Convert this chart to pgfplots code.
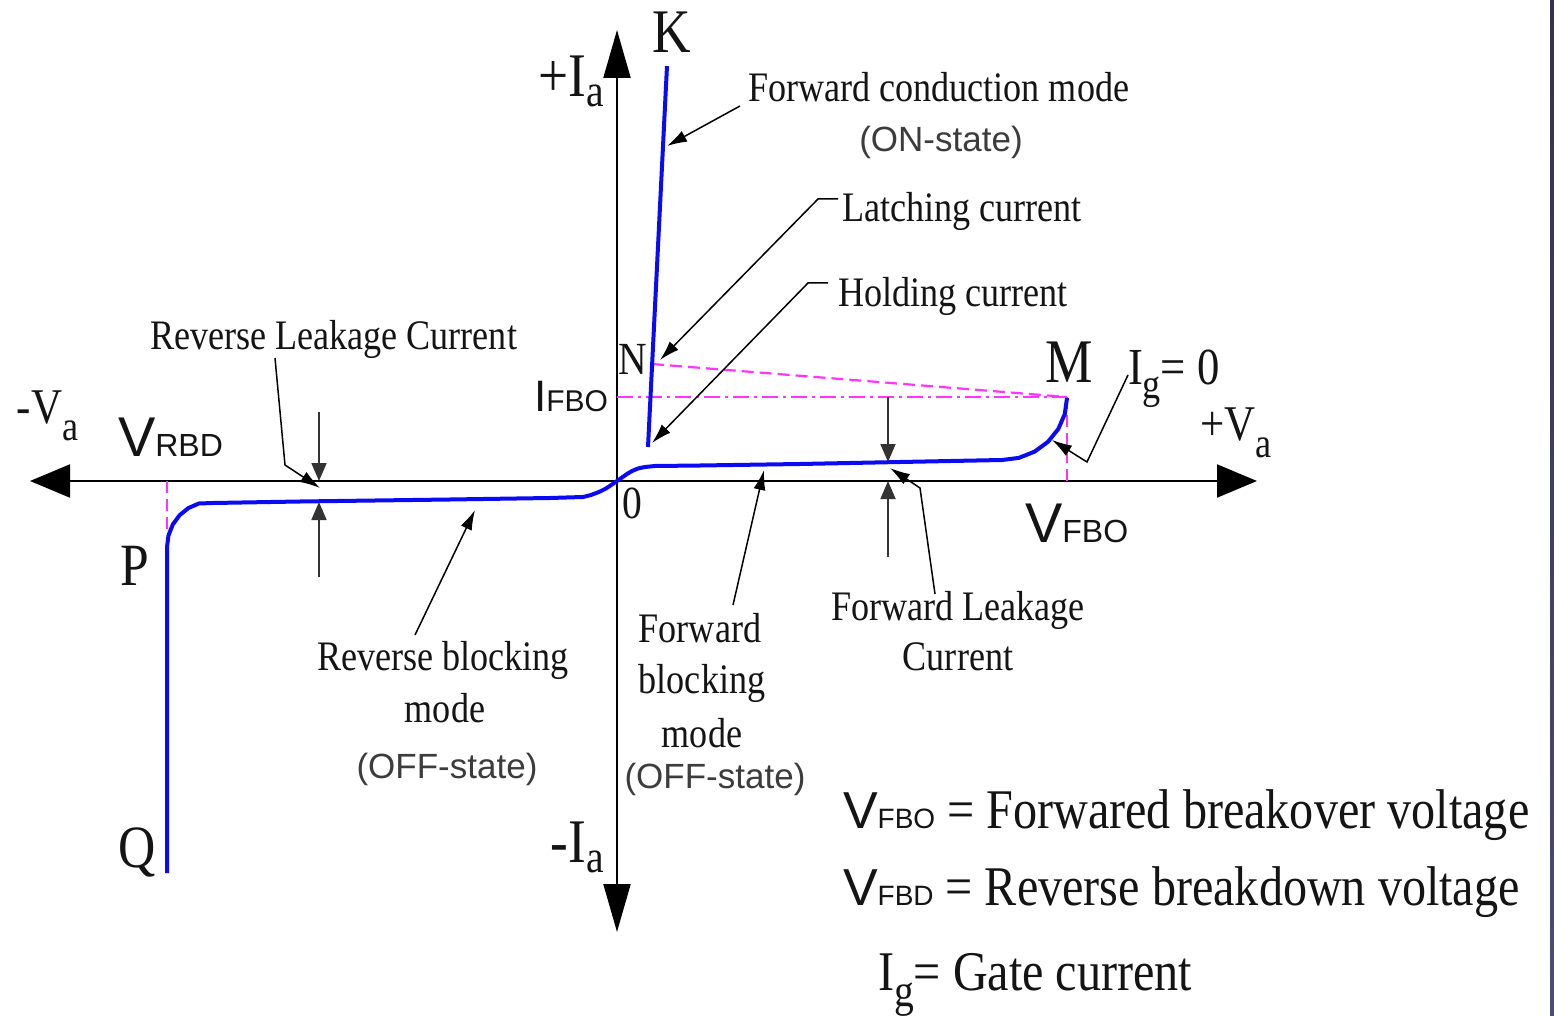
\documentclass[border=0pt]{standalone}
\usepackage{fontspec}
\setmainfont[FakeStretch=0.86]{Liberation Serif}
\newfontfamily\sans{Liberation Sans}
\usepackage{pgfplots}
\pgfplotsset{compat=1.18}
\usetikzlibrary{arrows.meta}
\definecolor{curve}{RGB}{10,10,245}
\definecolor{guide}{RGB}{255,50,255}
\definecolor{txt}{RGB}{20,20,20}
\definecolor{state}{RGB}{60,60,60}
\newcommand{\fs}[1]{\fontsize{#1}{#1}\selectfont}
\tikzset{lab/.style={inner sep=0pt,outer sep=0pt,text=txt}}
\begin{document}
\begin{tikzpicture}
\begin{axis}[x=0.5pt,y=0.5pt,xmin=0,xmax=1554,ymin=0,ymax=1016,y dir=reverse,
  axis lines=none,clip=false,scale only axis]
\path[fill=white] (axis cs:0,0) rectangle (axis cs:1554,1016);
\path[top color=black!85!blue!60!gray,bottom color=black!60!blue!40!gray] (axis cs:1550,0) rectangle (axis cs:1554,1016);
% axes
\addplot[black,line width=1pt,{Triangle[length=20pt,width=16.5pt]}-{Triangle[length=20pt,width=16.5pt]}] coordinates {(30,481) (1257,481)};
\addplot[black,line width=1pt,{Triangle[length=24pt,width=13.5pt]}-{Triangle[length=24pt,width=13.5pt]}] coordinates {(617,30) (617,932)};
% guides
\addplot[guide,line width=1.1pt,dash pattern=on 6pt off 3pt] coordinates {(652,364) (1067,397)};
\addplot[guide,line width=1.1pt,dash pattern=on 8pt off 2.5pt on 1.5pt off 2.5pt] coordinates {(617,397) (1067,397)};
\addplot[guide,line width=1.1pt,dash pattern=on 6pt off 3pt] coordinates {(1067,397) (1067,481)};
\addplot[guide,line width=0.9pt,dash pattern=on 6pt off 3pt] coordinates {(167,481) (167,530)};
% characteristic
\addplot[curve,line width=2pt,line join=round] coordinates {(667,66) (648,447)};
\addplot[curve,line width=2pt,line join=round] coordinates {
(617,481) (622,477.5) (627,474) (632,471) (638,468.5) (645,467) (655,466) (700,465.5)
(800,464) (900,462) (1002,460) (1018.8,457.9) (1034.5,451.7) (1048,441.8)
(1058.3,429) (1064.8,414) (1067,398)};
\addplot[curve,line width=2pt,line join=round] coordinates {
(617,481) (612,484.5) (606,488.5) (599,492) (591,495) (583,497) (550,498)
(450,499.5) (300,501.5) (213,503) (198.9,503.5) (188.5,508) (179.6,515.2)
(172.8,524.5) (168.5,535.4) (167,547) (167,873)};
% annotation pointers
\addplot[black,line width=0.75pt,-{Latex[length=10pt,width=6pt]}] coordinates {(740,106) (667,146)};
\addplot[black,line width=0.75pt,-{Latex[length=10pt,width=6pt]}] coordinates {(838,199) (818,199) (660,360)};
\addplot[black,line width=0.75pt,-{Latex[length=10pt,width=6pt]}] coordinates {(828,283) (808,283) (652,443)};
\addplot[black,line width=0.75pt,-{Latex[length=10pt,width=6pt]}] coordinates {(275,358) (285,465) (320,488)};
\addplot[black,line width=0.75pt,-{Latex[length=10pt,width=6pt]}] coordinates {(935,594) (920,488) (890,468)};
\addplot[black,line width=0.75pt,-{Latex[length=10pt,width=6pt]}] coordinates {(1128,375) (1087,462) (1052,440)};
\addplot[black,line width=0.75pt,-{Latex[length=10pt,width=6pt]}] coordinates {(415,635) (475,510)};
\addplot[black,line width=0.75pt,-{Latex[length=10pt,width=6pt]}] coordinates {(733,605) (764,470)};
% leakage markers
\addplot[black!80,line width=0.9pt,-{Triangle[length=9pt,width=7.5pt]}] coordinates {(319,412) (319,481)};
\addplot[black!80,line width=0.9pt,-{Triangle[length=9pt,width=7.5pt]}] coordinates {(319,577) (319,502)};
\addplot[black!80,line width=0.9pt,-{Triangle[length=9pt,width=7.5pt]}] coordinates {(888,397) (888,462)};
\addplot[black!80,line width=0.9pt,-{Triangle[length=9pt,width=7.5pt]}] coordinates {(888,557) (888,481)};
% labels
\node[lab,anchor=base] at (axis cs:672,53) {\fs{31}K};
\node[lab,anchor=base east] at (axis cs:604,97) {\fs{31}+I\raisebox{-5pt}{\fs{23}a}};
\node[lab,anchor=base west] at (axis cs:748,102) {\fs{21}Forward conduction mode};
\node[lab,anchor=base,text=state] at (axis cs:941,152) {\sans\fs{17.5}(ON-state)};
\node[lab,anchor=base west] at (axis cs:842,222) {\fs{21}Latching current};
\node[lab,anchor=base west] at (axis cs:838,307) {\fs{21}Holding current};
\node[lab,anchor=base west] at (axis cs:150,350) {\fs{21}Reverse Leakage Current};
\node[lab,anchor=base west] at (axis cs:618,375) {\fs{23}N};
\node[lab,anchor=base east] at (axis cs:608,412) {\sans\fs{22}I\fs{15}FBO};
\node[lab,anchor=base] at (axis cs:1069,383) {\fs{31}M};
\node[lab,anchor=base west] at (axis cs:1128,385) {\fs{26}I\raisebox{-7pt}{\fs{21}g}= 0};
\node[lab,anchor=base west] at (axis cs:17,423) {\fs{25}-V\raisebox{-9pt}{\fs{21}a}};
\node[lab,anchor=base west] at (axis cs:1200,440) {\fs{25}+V\raisebox{-9pt}{\fs{21}a}};
\node[lab,anchor=base west] at (axis cs:118,457) {\sans\fs{28}V\fs{16}RBD};
\node[lab,anchor=base west] at (axis cs:1025,542) {\sans\fs{28}V\fs{16}FBO};
\node[lab,anchor=base west] at (axis cs:622,518) {\fs{23}0};
\node[lab,anchor=base west] at (axis cs:120,585) {\fs{30}P};
\node[lab,anchor=base west] at (axis cs:118,867) {\fs{30}Q};
\node[lab,anchor=base east] at (axis cs:604,862) {\fs{31}-I\raisebox{-5pt}{\fs{23}a}};
\node[lab,anchor=base] at (axis cs:443,670) {\fs{21}Reverse blocking};
\node[lab,anchor=base] at (axis cs:445,722) {\fs{21}mode};
\node[lab,anchor=base,text=state] at (axis cs:447,778) {\sans\fs{17.5}(OFF-state)};
\node[lab,anchor=base] at (axis cs:700,642) {\fs{21}Forward};
\node[lab,anchor=base] at (axis cs:702,693) {\fs{21}blocking};
\node[lab,anchor=base] at (axis cs:702,747) {\fs{21}mode};
\node[lab,anchor=base,text=state] at (axis cs:715,788) {\sans\fs{17.5}(OFF-state)};
\node[lab,anchor=base] at (axis cs:958,620) {\fs{21}Forward Leakage};
\node[lab,anchor=base] at (axis cs:958,670) {\fs{21}Current};
\node[lab,anchor=base west] at (axis cs:843,828) {{\sans\fs{26}V\fs{14}FBO}\fs{28} = Forwared breakover voltage};
\node[lab,anchor=base west] at (axis cs:843,905) {{\sans\fs{26}V\fs{14}FBD}\fs{28} = Reverse breakdown voltage};
\node[lab,anchor=base west] at (axis cs:878,990) {\fs{28}I\raisebox{-8pt}{\fs{23}g}= Gate current};
\end{axis}
\end{tikzpicture}
\end{document}
